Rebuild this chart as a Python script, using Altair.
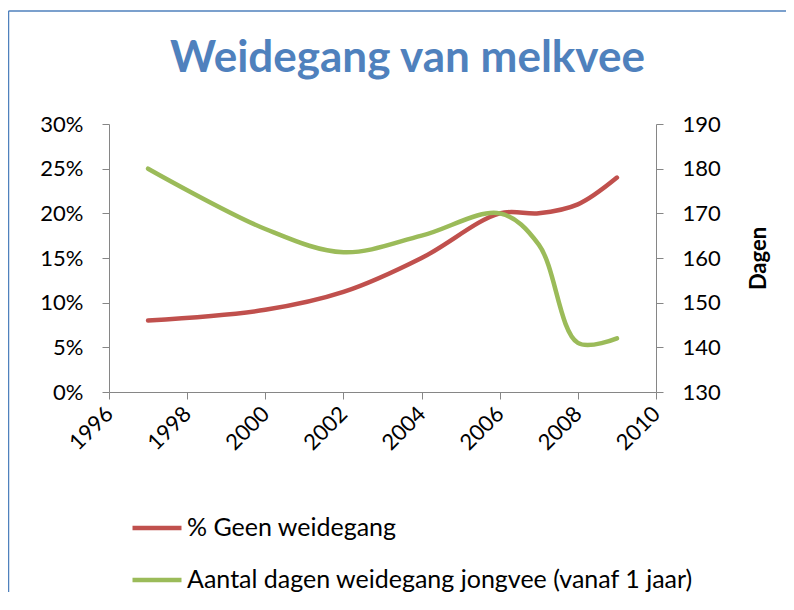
import altair as alt
import pandas as pd

years = [1997, 2000, 2002, 2004, 2006, 2007, 2008, 2009]
geen_weidegang = [0.08, 0.092, 0.112, 0.15, 0.20, 0.20, 0.21, 0.24]
dagen_jongvee = [180, 166.5, 161.3, 165, 170, 163, 141, 142]

series_names = ["% Geen weidegang", "Aantal dagen weidegang jongvee (vanaf 1 jaar)"]
series_colors = ["#C0504D", "#9BBB59"]

x_ticks = [1996, 1998, 2000, 2002, 2004, 2006, 2008, 2010]
pct_ticks = [0, 0.05, 0.10, 0.15, 0.20, 0.25, 0.30]
day_ticks = [130, 140, 150, 160, 170, 180, 190]

FONT = "Lato"
AXIS_GREY = "#868686"

df = pd.DataFrame({"jaar": years, "pct": geen_weidegang, "dagen": dagen_jongvee})

color_scale = alt.Scale(domain=series_names, range=series_colors)
legend = alt.Legend(
    orient="none", legendX=21, legendY=377, direction="vertical",
    symbolType="stroke", symbolSize=2400, symbolStrokeWidth=4.5,
    labelFont=FONT, labelFontSize=25, labelColor="#000000", labelOffset=3,
    labelLimit=700, rowPadding=12, padding=0,
)

x_axis = alt.Axis(
    values=x_ticks, format="d", labelAngle=315, labelAlign="right", labelBaseline="middle",
    labelFont=FONT, labelFontSize=22, labelColor="#000000", labelPadding=11,
    tickSize=7, tickColor=AXIS_GREY, domainColor=AXIS_GREY, grid=False, title=None,
    labelOverlap=False, labelFlush=False,
)
x_enc = alt.X("jaar:Q", scale=alt.Scale(domain=[1996, 2010], nice=False, zero=False), axis=x_axis)

red = alt.Chart(df).transform_calculate(serie="'" + series_names[0] + "'").mark_line(
    strokeWidth=4.5, interpolate="catmull-rom", strokeCap="round"
).encode(
    x=x_enc,
    y=alt.Y("pct:Q", scale=alt.Scale(domain=[0, 0.3], nice=False),
            axis=alt.Axis(orient="left", values=pct_ticks, format=".0%", labelFont=FONT,
                          labelFontSize=22, labelColor="#000000", labelPadding=19,
                          tickSize=7, tickColor=AXIS_GREY, domainColor=AXIS_GREY,
                          grid=False, title=None)),
    color=alt.Color("serie:N", scale=color_scale, legend=legend, title=None),
)

green = alt.Chart(df).transform_calculate(serie="'" + series_names[1] + "'").mark_line(
    strokeWidth=4.5, interpolate="catmull-rom", strokeCap="round"
).encode(
    x=x_enc,
    y=alt.Y("dagen:Q", scale=alt.Scale(domain=[130, 190], nice=False, zero=False),
            axis=alt.Axis(orient="right", values=day_ticks, format="d", labelFont=FONT,
                          labelFontSize=22, labelColor="#000000", labelPadding=19,
                          tickSize=7, tickColor=AXIS_GREY, domainColor=AXIS_GREY,
                          grid=False, title="Dagen", titleFont=FONT, titleFontSize=22,
                          titleFontWeight="bold", titleColor="#000000", titleAngle=270,
                          titleX=102, titleY=134, titleAlign="center",
                          titleBaseline="middle")),
    color=alt.Color("serie:N", scale=color_scale, legend=legend, title=None),
)

frame_df = pd.DataFrame({"k": [0]})
frame_v = alt.Chart(frame_df).mark_rule(color="#4F81BD", strokeWidth=1.5).encode(
    x=alt.value(-100.5), y=alt.value(-113), y2=alt.value(490)
)
frame_h = alt.Chart(frame_df).mark_rule(color="#4F81BD", strokeWidth=1.5).encode(
    x=alt.value(-100.5), x2=alt.value(680), y=alt.value(-113)
)

chart = alt.layer(red, green, frame_v, frame_h).resolve_scale(y="independent").properties(
    width=547, height=268,
    autosize=alt.AutoSizeParams(type="none"),
    padding={"left": 101, "top": 116, "right": 130, "bottom": 200},
    title=alt.TitleParams(
        "Weidegang van melkvee", font=FONT, fontSize=44, fontWeight="bold",
        color="#4F81BD", anchor="middle", dx=25, offset=-106, baseline="alphabetic",
    ),
).configure_view(stroke=None)

chart.save("out.html", embed_options={"renderer": "svg", "actions": False})
